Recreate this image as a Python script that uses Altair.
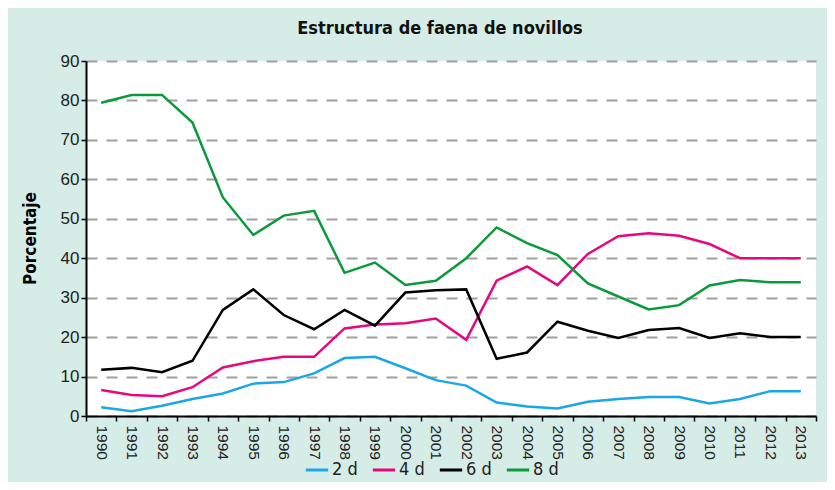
import altair as alt
import pandas as pd

years = [str(y) for y in range(1990, 2014)]
d2 = [2.2, 1.2, 2.6, 4.3, 5.7, 8.2, 8.6, 10.8, 14.7, 15.0, 12.1, 9.1,
      7.7, 3.4, 2.4, 1.9, 3.6, 4.3, 4.8, 4.8, 3.2, 4.3, 6.3, 6.3]
d4 = [6.6, 5.3, 5.0, 7.3, 12.3, 13.9, 15.0, 15.0, 22.2, 23.2, 23.5, 24.7,
      19.3, 34.3, 37.9, 33.2, 41.1, 45.6, 46.3, 45.7, 43.6, 40.0, 40.0, 40.0]
d6 = [11.7, 12.2, 11.1, 14.0, 26.9, 32.1, 25.6, 22.0, 26.9, 22.9, 31.3, 31.9,
      32.1, 14.5, 16.1, 23.9, 21.6, 19.8, 21.8, 22.3, 19.8, 21.0, 20.0, 20.0]
d8 = [79.4, 81.4, 81.4, 74.4, 55.4, 45.9, 50.8, 52.0, 36.3, 38.9, 33.2, 34.3,
      40.0, 47.8, 43.8, 40.8, 33.6, 30.3, 27.0, 28.1, 33.1, 34.5, 33.9, 33.9]
series_names = ["2 d", "4 d", "6 d", "8 d"]
series_colors = ["#1aa7e4", "#e5087e", "#000000", "#0a9a3c"]

rows = []
for name, vals in zip(series_names, [d2, d4, d6, d8]):
    for yr, v in zip(years, vals):
        rows.append({"Año": yr, "Porcentaje": v, "Serie": name})
df = pd.DataFrame(rows)

MINT = "#d6ece6"
COND = "DejaVu Sans Condensed, Liberation Sans, sans-serif"

chart = alt.Chart(df).mark_line(strokeWidth=2.5).encode(
    x=alt.X("Año:O", bandPosition=0.5,
            scale=alt.Scale(type="band", paddingInner=0, paddingOuter=0),
            axis=alt.Axis(title=None, labelAngle=90, labelAlign="left",
                          labelBaseline="middle", labelFont="Liberation Sans",
                          labelFontSize=15.5, labelColor="#222222",
                          labelPadding=4, tickBand="extent", tickSize=5,
                          tickColor="#000000", domainColor="#000000",
                          domainWidth=2, tickWidth=1.5, grid=False)),
    y=alt.Y("Porcentaje:Q",
            scale=alt.Scale(domain=[0, 90], nice=False),
            axis=alt.Axis(values=list(range(0, 91, 10)), title="Porcentaje",
                          titleFont=COND, titleFontSize=17,
                          titleFontWeight="bold", titleColor="#000000",
                          titleX=-56, titleY=177, titleBaseline="middle",
                          labelFont="Liberation Sans", labelFontSize=17,
                          labelColor="#222222", labelPadding=2, tickSize=5,
                          tickColor="#000000", domainColor="#000000",
                          domainWidth=2, tickWidth=1.5,
                          grid=True, gridColor="#a0a0a0", gridWidth=2,
                          gridDash=[11, 9])),
    color=alt.Color("Serie:N",
                    scale=alt.Scale(domain=series_names, range=series_colors),
                    legend=alt.Legend(title=None, orient="none", direction="horizontal",
                                      legendX=218, legendY=396,
                                      symbolType="stroke", symbolSize=500,
                                      symbolStrokeWidth=3, labelFont=COND,
                                      labelFontSize=18, labelColor="#222222",
                                      labelOffset=2, columnPadding=8)),
).properties(
    width=730, height=355,
    background=MINT,
    padding={"left": 78, "top": 53, "right": 11, "bottom": 66},
    autosize=alt.AutoSizeParams(type="none"),
    title=alt.TitleParams("Estructura de faena de novillos",
                          font=COND, fontSize=18,
                          fontWeight="bold", color="#111111",
                          anchor="middle", frame="group", dx=-11, offset=14),
).configure_view(fill="white", stroke=None)

chart.save("out.html", embed_options={"renderer": "svg", "actions": False})
